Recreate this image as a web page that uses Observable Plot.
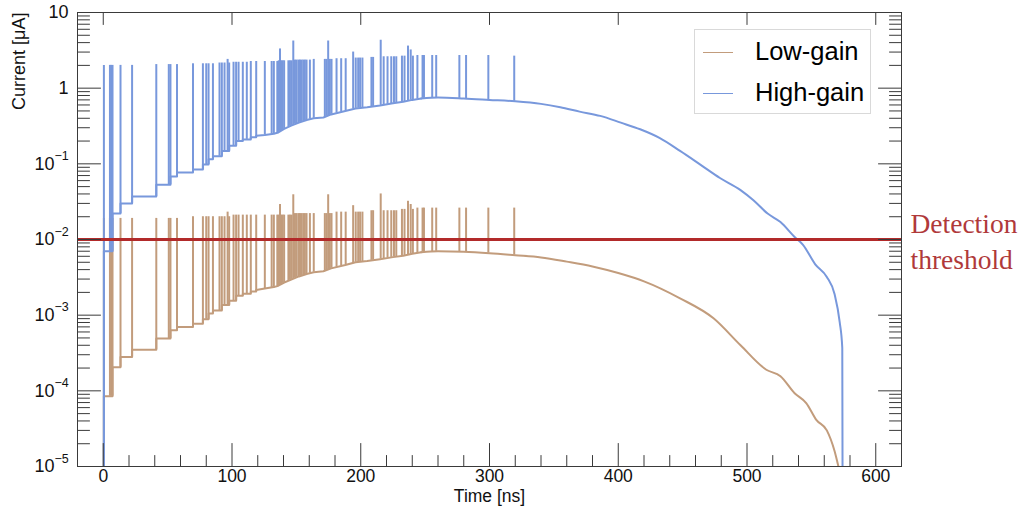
<!DOCTYPE html>
<html><head><meta charset="utf-8">
<script src="https://cdn.jsdelivr.net/npm/d3@7"></script>
<script src="https://cdn.jsdelivr.net/npm/@observablehq/plot@0.6"></script>
<style>
body{margin:0;background:#fff;}
#wrap{position:relative;width:1032px;height:509px;font-family:"Liberation Sans",Arial,Helvetica,sans-serif;}
#legend{position:absolute;left:694px;top:29px;width:177px;height:85px;border:1px solid #d9d9d9;background:#fff;box-sizing:border-box;}
.li{position:absolute;left:8px;height:30px;width:170px;}
.li .sw{position:absolute;left:0;top:50%;width:30px;height:0;border-top:1.6px solid;}
.li .lb{position:absolute;left:52px;top:50%;transform:translateY(-52%);font-size:25.5px;color:#000;white-space:nowrap;}
g[aria-label="threshold-label"] text{letter-spacing:1.2px;}
</style></head><body><div id="wrap"></div>
<script>
// ---- axes / ticks ----
const xDomain = [-20, 620];
const yDomain = [1e-5, 10];
const xMajor = [0, 100, 200, 300, 400, 500, 600];
const xMinor = [-20, 20, 40, 60, 80, 120, 140, 160, 180, 220, 240, 260, 280, 320, 340, 360, 380, 420, 440, 460, 480, 520, 540, 560, 580, 620];
const yMajor = [1e-5, 1e-4, 1e-3, 1e-2, 1e-1, 1, 10];
const yExpLabels = [-5, -4, -3, -2, -1];         // labels 10^-5 ... 10^-1
const yPlainLabels = [1, 10];
const yMinorMult = [2, 3, 4, 5, 6, 7, 8, 9];
const yMinorDecades = [1e-5, 1e-4, 1e-3, 1e-2, 1e-1, 1];
const xTitle = "Time [ns]";
const yTitle = "Current [μA]";

// ---- series ----
const seriesNames = ["Low-gain", "High-gain"];
const seriesColors = ["#c29c7c", "#7898dc"];
const threshold = 1e-2;
const thresholdLabel = "Detection\nthreshold";
const thresholdColor = "#b22a2a";

// baseline (between pulses), high-gain, time ns / current µA  (stepped rise, then smooth fall)
const hgRiseT = [0.5,0.5,7.2,7.2,13.4,13.4,22.4,22.4,41.2,41.2,52.2,52.2,57.3,57.3,69.7,69.7,77.4,77.4,81.8,81.8,85.2,85.2,92.1,92.1,97.8,97.8,103.2,103.2,108.4,108.4,114.6,114.6,118.8,118.8,125.5,132.5,136,140.5,146,152,158,163.5,171,177,188,196,205,215,225,233,240,247];
const hgRiseV = [1e-5,0.007,0.007,0.022,0.022,0.030,0.030,0.037,0.037,0.053,0.053,0.068,0.068,0.077,0.077,0.084,0.084,0.098,0.098,0.115,0.115,0.126,0.126,0.148,0.148,0.173,0.173,0.20,0.20,0.21,0.21,0.224,0.224,0.235,0.24,0.25,0.26,0.29,0.32,0.35,0.38,0.40,0.41,0.45,0.50,0.54,0.56,0.59,0.63,0.66,0.70,0.73];
const hgFallT = [247,260,280,300,320,340,355,370,386,402,417,432,448,464,479,495,505,516,526,537,543.5,553,562,568,572,574,574.2];
const hgFallV = [0.73,0.75,0.73,0.70,0.67,0.62,0.56,0.49,0.43,0.35,0.286,0.22,0.148,0.097,0.065,0.045,0.033,0.022,0.017,0.0108,0.0085,0.0047,0.0032,0.0019,0.00081,0.00037,1e-5];
// baseline, low-gain
const lgRiseT = [0.5,0.5,7.2,7.2,13.4,13.4,22.4,22.4,41.2,41.2,52.2,52.2,57.3,57.3,69.7,69.7,77.4,77.4,81.8,81.8,85.2,85.2,92.1,92.1,97.8,97.8,103.2,103.2,108.4,108.4,114.6,114.6,118.8,118.8,125.5,132.5,136,140.5,146,152,158,163.5,171,177,188,196,205,215,225,233,240,247];
const lgRiseV = [1e-5,8.5e-5,8.5e-5,2.05e-4,2.05e-4,2.8e-4,2.8e-4,3.5e-4,3.5e-4,4.9e-4,4.9e-4,6.3e-4,6.3e-4,7.0e-4,7.0e-4,7.7e-4,7.7e-4,8.8e-4,8.8e-4,1.05e-3,1.05e-3,1.15e-3,1.15e-3,1.36e-3,1.36e-3,1.55e-3,1.55e-3,1.8e-3,1.8e-3,1.92e-3,1.92e-3,2.05e-3,2.05e-3,2.15e-3,2.25e-3,2.35e-3,2.45e-3,2.7e-3,2.95e-3,3.25e-3,3.5e-3,3.7e-3,3.8e-3,4.15e-3,4.6e-3,5.0e-3,5.2e-3,5.5e-3,5.85e-3,6.1e-3,6.5e-3,6.8e-3];
const lgFallT = [247,260,280,300,320,340,360,380,400,420,448,474,495,515,526,537,546,554,562,568,571];
const lgFallV = [6.8e-3,7.0e-3,6.9e-3,6.6e-3,6.2e-3,5.8e-3,5.1e-3,4.4e-3,3.6e-3,2.8e-3,1.67e-3,9.1e-4,4.0e-4,1.9e-4,1.56e-4,9.3e-5,6.9e-5,4.1e-5,3.0e-5,1.6e-5,1e-5];

// single-photon pulses: time (ns) and peak current (µA)
const spikeT = [0.5,5.2,6.2,7.2,13.4,22.4,41.2,50.9,52.2,57.3,69.7,77.4,80.0,81.8,85.2,90.3,92.1,94.2,96.6,97.8,101.2,103.2,105.1,108.4,111.5,114.6,118.8,125.5,130.8,132.5,135.2,136.3,137.3,138.3,139.3,140.5,143.8,145.0,146.3,147.6,148.9,150.2,151.7,152.8,154.1,155.4,156.6,157.9,160.5,163.5,172.1,173.4,174.7,176.0,177.3,181.2,184.8,188.3,194.1,196.1,198.0,199.5,201.3,208.3,209.6,215.5,217.8,220.8,223.7,225.8,227.6,232.0,234.0,236.7,238.8,240.5,244.0,248.0,249.1,255.5,258.6,276.6,281.8,299.1,319.2];
const hgPeak = [2.0,2.0,2.0,2.0,2.0,2.0,2.05,2.05,2.05,2.05,2.1,2.1,2.1,2.1,2.1,2.15,2.15,2.15,2.4,2.15,2.2,2.2,2.2,2.2,2.2,2.25,2.25,2.25,2.25,2.25,2.25,2.3,3.3,2.3,2.3,2.3,2.3,2.3,2.3,4.2,2.35,2.35,2.35,2.35,2.35,2.35,2.35,2.35,2.35,2.4,2.4,2.4,4.2,2.4,2.4,2.45,2.45,2.45,3.0,2.5,2.5,2.5,2.5,2.55,2.55,4.3,2.6,2.6,2.6,2.6,2.6,2.65,2.65,3.6,3.2,2.65,2.7,2.7,2.7,2.7,2.7,2.7,2.7,2.7,2.65];
const lgPeak = [0.019,0.019,0.019,0.019,0.019,0.019,0.019,0.019,0.019,0.019,0.020,0.020,0.020,0.020,0.020,0.020,0.020,0.020,0.023,0.020,0.021,0.021,0.021,0.021,0.021,0.021,0.021,0.021,0.021,0.021,0.021,0.021,0.029,0.021,0.021,0.021,0.021,0.021,0.021,0.039,0.022,0.022,0.022,0.022,0.022,0.022,0.022,0.022,0.022,0.022,0.022,0.022,0.039,0.022,0.022,0.023,0.023,0.023,0.028,0.023,0.023,0.023,0.023,0.024,0.024,0.040,0.024,0.024,0.024,0.024,0.024,0.025,0.025,0.032,0.029,0.025,0.026,0.026,0.026,0.026,0.026,0.026,0.026,0.026,0.026];

// ---- build tables ----
function baseAt(T, V, t) { // value of the drawn baseline just before time t
  let i = -1;
  for (let k = 0; k < T.length; k++) if (T[k] < t) i = k;
  if (i < 0) return V[0];
  if (i === T.length - 1) return V[i];
  const t0 = T[i], t1 = T[i + 1], v0 = V[i], v1 = V[i + 1];
  if (t1 === t0) return v0;
  const f = (t - t0) / (t1 - t0);
  return Math.exp(Math.log(v0) + f * (Math.log(v1) - Math.log(v0)));
}
const hgT = hgRiseT.concat(hgFallT.slice(1)), hgV = hgRiseV.concat(hgFallV.slice(1));
const lgT = lgRiseT.concat(lgFallT.slice(1)), lgV = lgRiseV.concat(lgFallV.slice(1));
const toRows = (T, V) => T.map((t, i) => ({t, v: V[i]}));
const lgSpikes = spikeT.map((t, i) => ({t, lo: baseAt(lgT, lgV, t), hi: lgPeak[i]}));
const hgSpikes = spikeT.map((t, i) => ({t, lo: baseAt(hgT, hgV, t), hi: hgPeak[i]}));
const yMinor = yMinorDecades.flatMap(d => yMinorMult.map(m => m * d));

const axisColor = "#3a3a3a";
const tickShape = {draw(ctx, l) { ctx.moveTo(0, 0); ctx.lineTo(0, -l); }};
const tick = (data, o) => Plot.vector(data, {anchor: "start", shape: tickShape, stroke: axisColor, strokeWidth: 1, ...o});

const chart = Plot.plot({
  width: 1032, height: 509,
  marginLeft: 77, marginRight: 131, marginTop: 12, marginBottom: 43,
  x: {domain: xDomain, axis: null},
  y: {type: "log", domain: yDomain, axis: null},
  style: {fontFamily: '"Liberation Sans", Arial, Helvetica, sans-serif', background: "white", overflow: "visible"},
  marks: [
    // data
    Plot.line(toRows(lgRiseT, lgRiseV), {x: "t", y: "v", stroke: seriesColors[0], strokeWidth: 2, clip: true}),
    Plot.line(toRows(lgFallT, lgFallV), {x: "t", y: "v", stroke: seriesColors[0], strokeWidth: 2, curve: "monotone-x", clip: true}),
    Plot.ruleX(lgSpikes, {x: "t", y1: "lo", y2: "hi", stroke: seriesColors[0], strokeWidth: 2, clip: true}),
    Plot.line(toRows(hgRiseT, hgRiseV), {x: "t", y: "v", stroke: seriesColors[1], strokeWidth: 2, clip: true}),
    Plot.line(toRows(hgFallT, hgFallV), {x: "t", y: "v", stroke: seriesColors[1], strokeWidth: 2, curve: "monotone-x", clip: true}),
    Plot.ruleX(hgSpikes, {x: "t", y1: "lo", y2: "hi", stroke: seriesColors[1], strokeWidth: 2, clip: true}),
    // threshold
    Plot.ruleY([threshold], {y: d => d, stroke: thresholdColor, strokeWidth: 3}),
    Plot.text([threshold], {x: xDomain[1], y: d => d, text: () => thresholdLabel, textAnchor: "start", dx: 9, lineAnchor: "middle", lineHeight: 1.3, fontSize: 27.5, fontFamily: '"Liberation Serif", "Times New Roman", serif', fill: "#b0393a", ariaLabel: "threshold-label"}),
    // frame and ticks
    Plot.frame({stroke: axisColor, strokeWidth: 1}),
    tick(xMajor, {x: d => d, y: yDomain[0], length: 23, rotate: 0}),
    tick(xMinor, {x: d => d, y: yDomain[0], length: 11, rotate: 0}),
    tick(xMajor, {x: d => d, y: yDomain[1], length: 12, rotate: 180}),
    tick(yMajor, {y: d => d, x: xDomain[0], length: 23, rotate: 90}),
    tick(yMinor, {y: d => d, x: xDomain[0], length: 12, rotate: 90}),
    tick(yMajor, {y: d => d, x: xDomain[1], length: 23, rotate: -90}),
    tick(yMinor, {y: d => d, x: xDomain[1], length: 12, rotate: -90}),
    // tick labels
    Plot.text(xMajor, {x: d => d, y: yDomain[0], text: d => String(d), dy: 10, lineAnchor: "middle", fontSize: 17.5, fill: "#111"}),
    Plot.text(yPlainLabels, {x: xDomain[0], y: d => d, text: d => String(d), textAnchor: "end", dx: -9, fontSize: 18, fill: "#111"}),
    Plot.text(yExpLabels, {x: xDomain[0], y: d => Math.pow(10, d), text: () => "10", textAnchor: "end", dx: -23, fontSize: 18, fill: "#111"}),
    Plot.text(yExpLabels, {x: xDomain[0], y: d => Math.pow(10, d), text: d => "\u2212" + Math.abs(d), textAnchor: "start", dx: -23, dy: -8, fontSize: 12.5, fill: "#111"}),
    // axis titles
    Plot.text([xTitle], {frameAnchor: "bottom", text: d => d, lineAnchor: "middle", dy: 30, fontSize: 17.5, fill: "#111"}),
    Plot.text([yTitle], {x: xDomain[0], y: yDomain[1], text: d => d, rotate: -90, textAnchor: "end", lineAnchor: "middle", dx: -58, fontSize: 18, fill: "#111"})
  ]
});

const wrap = document.getElementById("wrap");
wrap.appendChild(chart);
// legend (inside the frame, top right)
const leg = document.createElement("div");
leg.id = "legend";
seriesNames.forEach((name, i) => {
  const it = document.createElement("div");
  it.className = "li";
  it.style.top = (i === 0 ? 7 : 48) + "px";
  it.innerHTML = `<span class="sw" style="border-color:${seriesColors[i]}"></span><span class="lb">${name}</span>`;
  leg.appendChild(it);
});
wrap.appendChild(leg);
</script></body></html>
